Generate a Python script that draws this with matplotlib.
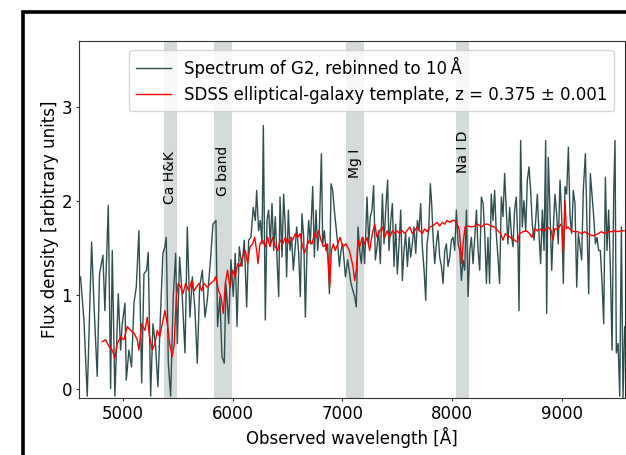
import matplotlib
matplotlib.use("Agg")
import matplotlib.pyplot as plt
from matplotlib.patches import Rectangle

# ---------------- data ----------------
spec_wave = [
    4600, 4614, 4645, 4675, 4715, 4736, 4766, 4787, 4818, 4836, 4867, 4888, 4903, 4927, 4958, 4979,
    4994, 5019, 5031, 5055, 5079, 5101, 5122, 5146, 5171, 5192, 5216, 5231, 5253, 5274, 5298, 5319,
    5344, 5365, 5383, 5395, 5414, 5435, 5459, 5481, 5496, 5517, 5541, 5566, 5587, 5611, 5633, 5657,
    5678, 5699, 5724, 5748, 5769, 5800, 5821,
    5848, 5863, 5884, 5903, 5924, 5939, 5964, 5985, 6006, 6024, 6040, 6061, 6085, 6106, 6128, 6146,
    6167, 6188, 6207, 6219, 6237, 6252, 6268, 6280, 6298, 6313, 6328, 6344, 6359, 6374, 6389, 6404,
    6420, 6432, 6450, 6465, 6480, 6492, 6508, 6523, 6538, 6553, 6568, 6584, 6602, 6617, 6632, 6648,
    6663, 6678, 6693, 6708, 6730, 6745, 6760, 6775, 6790, 6809, 6821, 6836, 6851, 6866, 6882, 6897,
    6912, 6927, 6942, 6958, 6973, 6988, 7003, 7028, 7049, 7079,
    7097, 7112, 7127, 7143, 7158, 7173, 7188, 7203, 7225, 7240, 7255, 7270, 7285, 7301, 7316, 7331,
    7346, 7365, 7380, 7395, 7413, 7425, 7441, 7456, 7471, 7486, 7501, 7517, 7532, 7547, 7562, 7577,
    7593, 7608, 7623, 7638, 7653, 7669, 7684, 7699, 7714, 7729, 7745, 7760, 7772, 7787, 7802, 7814,
    7827, 7842, 7857, 7872, 7887, 7903, 7918, 7933, 7948, 7963, 7979, 7994, 8009, 8024, 8039, 8055,
    8070, 8085, 8100, 8115, 8131, 8146, 8161, 8176, 8191, 8207, 8222, 8237, 8252, 8267, 8283, 8298,
    8313,
    8327, 8342, 8357, 8373, 8388, 8403, 8418, 8433, 8449, 8464, 8479, 8494, 8509, 8525, 8540, 8555,
    8570, 8585, 8601, 8610, 8625, 8640, 8655, 8671, 8686, 8701, 8716, 8731, 8747, 8762, 8777, 8792,
    8807, 8823, 8838, 8853, 8862, 8877, 8892, 8908, 8923, 8938, 8953, 8968, 8984, 8999, 9014, 9029,
    9044, 9060, 9075, 9090, 9105, 9120, 9136, 9151, 9166, 9181, 9196, 9215, 9230, 9245, 9260, 9275,
    9291, 9306, 9321, 9336, 9351, 9367, 9382, 9397, 9412, 9427, 9443, 9458, 9473, 9485, 9497, 9513,
    9528, 9543, 9558, 9573, 9583,
]
spec_flux = [
    1.15, 1.19, 0.73, -0.08, 1.56, 0.91, 0.13, 1.22, 1.42, 0.83, 1.95, 0.00, 1.47, -0.08, 1.01, 0.41,
    0.69, 0.91, 0.09, 0.41, 0.23, 0.91, 1.08, 1.68, 0.06, 1.22, 1.26, 1.45, -0.08, 0.69, 0.45, 0.02,
    0.83, 1.44, 1.51, 1.61, 0.27, -0.08, 0.98, 1.44, 0.48, 1.40, 0.98, 0.38, 1.72, 0.76, 1.19, 0.83,
    0.27, 1.08, 1.26, 0.76, 0.94, 1.40, 1.75,
    1.79, 0.66, 0.98, 0.34, 0.27, 1.12, 0.69, 1.37, 0.98, 1.44, 0.66, 1.51, 1.30, 1.58, 0.87, 1.58,
    1.61, 1.93, 1.79, 2.11, 1.68, 1.79, 1.54, 2.80, 0.73, 1.79, 1.90, 1.54, 1.97, 1.47, 1.83, 1.40,
    0.98, 2.04, 1.40, 2.07, 1.72, 1.19, 1.90, 1.47, 1.61, 1.26, 1.47, 1.72, 1.44, 0.98, 1.86, 1.61,
    0.76, 1.47, 1.79, 1.54, 2.15, 1.40, 1.90, 1.47, 1.68, 2.50, 1.54, 1.68, 1.47, 1.54, 1.01, 2.18,
    2.11, 1.90, 1.72, 1.54, 1.30, 1.47, 1.54, 1.19, 1.37, 1.12,
    1.04, 0.98, 0.87, 1.72, 1.47, 1.33, 1.61, 1.33, 2.04, 1.54, 1.83, 1.90, 2.16, 1.37, 1.51, 1.68,
    1.33, 2.07, 1.54, 1.90, 2.22, 1.47, 1.79, 1.97, 1.30, 1.75, 1.22, 1.54, 1.90, 1.15, 1.47, 1.65,
    1.30, 1.61, 1.40, 1.54, 1.72, 1.44, 1.79, 1.68, 1.97, 1.51, 1.26, 0.94, 1.54, 1.68, 2.18, 1.97,
    1.61, 1.33, 1.54, 1.68, 1.40, 1.30, 1.12, 1.47, 1.54, 1.30, 1.40, 1.58, 1.61, 1.47, 1.90, 1.54,
    1.47, 1.15, 1.37, 1.26, 1.90, 0.98, 1.47, 1.61, 1.33, 1.61, 1.90, 1.47, 1.26, 2.04, 1.97, 1.65,
    1.12,
    1.61, 1.12, 2.07, 1.79, 2.11, 1.65, 1.40, 1.12, 2.04, 1.83, 2.29, 1.90, 1.54, 1.93, 1.65, 1.51,
    1.90, 2.04, 1.51, 0.83, 2.64, 1.72, 2.00, 1.68, 2.22, 2.36, 2.11, 1.75, 1.58, 1.79, 2.07, 1.65,
    1.33, 1.90, 1.47, 2.64, 0.80, 2.46, 1.90, 1.26, 1.72, 2.07, 1.86, 1.54, 2.22, 1.83, 1.12, 2.15,
    2.07, 2.57, 1.83, 1.65, 2.11, 1.97, 1.08, 1.65, 1.51, 1.37, 2.11, 2.50, 1.72, 1.01, 2.29, 2.07,
    1.83, 1.54, 1.61, 1.47, 1.47, 1.12, 0.69, 2.25, 1.47, 1.90, 1.26, 0.41, 2.07, 2.64, 0.38, 0.48,
    -0.08, 1.72, -0.10, 0.66, 0.66,
]

tmpl_wave = [
    4812, 4842, 4873, 4903, 4927, 4949, 4979, 5009, 5040, 5070, 5101, 5131, 5146, 5171, 5201, 5222,
    5243, 5268, 5292, 5313, 5335, 5359, 5383, 5405, 5426, 5450, 5468, 5487, 5505, 5526, 5547, 5572,
    5602, 5627, 5648, 5669, 5693, 5718, 5739, 5769, 5800, 5830,
    5848, 5872, 5894, 5915, 5933, 5954, 5976, 6000, 6024, 6046, 6067, 6091, 6116, 6137, 6158, 6182,
    6201, 6219, 6231, 6249, 6274, 6298, 6319, 6340, 6365, 6389, 6410, 6432, 6456, 6480, 6502, 6523,
    6547, 6572, 6593, 6614, 6632, 6654, 6675, 6699, 6724, 6745, 6766, 6784, 6806, 6827, 6851, 6869,
    6885, 6900, 6918, 6936, 6958, 6979, 7003, 7034, 7064,
    7097, 7112, 7127, 7143, 7158, 7182, 7203, 7225, 7249, 7273, 7295, 7316, 7340, 7365, 7386, 7407,
    7431, 7456, 7477, 7498, 7523, 7547, 7568, 7589, 7614, 7638, 7659, 7681, 7705, 7729, 7751, 7772,
    7796, 7821, 7842, 7863, 7887, 7912, 7933, 7954, 7979, 8003, 8024, 8045, 8064, 8076, 8088, 8100,
    8118, 8146, 8176, 8207, 8237, 8267, 8298,
    8327, 8357, 8388, 8418, 8443, 8464, 8485, 8509, 8540, 8570, 8595, 8616, 8646, 8677, 8707, 8728,
    8753, 8783, 8813, 8844, 8874, 8905, 8920, 8935, 8965, 8990, 9002, 9014, 9029, 9041, 9057, 9087,
    9117, 9148, 9178, 9209, 9239, 9269, 9300, 9330, 9361, 9391, 9421, 9452, 9482, 9513, 9543, 9583,
]
tmpl_flux = [
    0.50, 0.52, 0.45, 0.41, 0.32, 0.48, 0.55, 0.52, 0.66, 0.62, 0.59, 0.52, 0.41, 0.69, 0.62, 0.76,
    0.55, 0.41, 0.48, 0.62, 0.55, 0.69, 0.83, 0.69, 0.48, 0.34, 0.48, 0.98, 1.12, 1.08, 1.01, 1.12,
    1.04, 1.15, 1.04, 1.08, 1.12, 1.04, 1.12, 1.08, 1.12, 1.15,
    1.19, 1.04, 0.98, 0.80, 1.12, 1.26, 1.08, 1.26, 1.19, 1.33, 1.30, 1.40, 1.47, 1.33, 1.51, 1.54,
    1.61, 1.47, 1.33, 1.54, 1.58, 1.51, 1.61, 1.51, 1.61, 1.51, 1.47, 1.58, 1.54, 1.61, 1.54, 1.61,
    1.58, 1.65, 1.61, 1.65, 1.54, 1.44, 1.51, 1.58, 1.54, 1.65, 1.61, 1.68, 1.58, 1.51, 1.54, 1.40,
    1.08, 1.47, 1.54, 1.47, 1.54, 1.61, 1.51, 1.54, 1.47,
    1.30, 1.15, 1.26, 1.58, 1.51, 1.61, 1.54, 1.61, 1.47, 1.65, 1.75, 1.61, 1.68, 1.72, 1.61, 1.68,
    1.61, 1.68, 1.65, 1.68, 1.65, 1.68, 1.65, 1.68, 1.72, 1.65, 1.68, 1.72, 1.68, 1.65, 1.70, 1.67,
    1.72, 1.73, 1.75, 1.77, 1.73, 1.77, 1.75, 1.79, 1.77, 1.79, 1.79, 1.75, 1.70, 1.54, 1.33, 1.54,
    1.72, 1.73, 1.72, 1.73, 1.75, 1.72, 1.75,
    1.75, 1.73, 1.72, 1.68, 1.65, 1.58, 1.65, 1.63, 1.60, 1.58, 1.56, 1.65, 1.67, 1.68, 1.65, 1.61,
    1.70, 1.68, 1.70, 1.68, 1.72, 1.68, 1.58, 1.70, 1.70, 1.75, 1.72, 1.44, 2.00, 1.70, 1.72, 1.68,
    1.67, 1.67, 1.65, 1.67, 1.65, 1.63, 1.63, 1.65, 1.67, 1.65, 1.67, 1.67, 1.68, 1.67, 1.68, 1.68,
]

band_names = ["Ca H&K", "G band", "Mg I", "Na I D"]
band_lo = [5373, 5833, 7036, 8040]
band_hi = [5493, 5993, 7196, 8155]
band_text_y = [2.25, 2.32, 2.40, 2.52]

x_ticks = [5000, 6000, 7000, 8000, 9000]
y_ticks = [0, 1, 2, 3]

# ---------------- figure ----------------
plt.rcParams['font.family'] = ['DejaVu Sans']
W, H = 626, 455
fig = plt.figure(figsize=(W / 100, H / 100), dpi=100)
ax = fig.add_axes([79 / W, 1 - 398 / H, (625 - 79) / W, (398 - 41) / H])

band_color = '#d5dbdb'
for name, lo, hi, ty in zip(band_names, band_lo, band_hi, band_text_y):
    ax.axvspan(lo, hi, color=band_color, lw=0, zorder=0)
    ax.text((lo + hi) / 2, ty, name, rotation=90, ha='center', va='center',
            fontsize=10, color='black', zorder=1)

ax.plot(spec_wave, spec_flux, color='darkslategray', lw=1.0, zorder=2,
        label='Spectrum of G2, rebinned to 10\u2009\u00c5')
ax.plot(tmpl_wave, tmpl_flux, color='red', lw=1.0, zorder=3,
        label='SDSS elliptical-galaxy template, z = 0.375 \u00b1 0.001')

ax.set_xlim(4600, 9576)
ax.set_ylim(-0.1, 3.7)
ax.set_xticks(x_ticks)
ax.set_yticks(y_ticks)
ax.tick_params(labelsize=12, color='#333333', length=2.5, pad=2.5)
for s in ax.spines.values():
    s.set_color('#333333')
ax.set_xlabel('Observed wavelength [\u00c5]', fontsize=12, labelpad=3)
ax.set_ylabel('Flux density [arbitrary units]', fontsize=12, labelpad=2)

ax.legend(loc='upper right', fontsize=12, bbox_to_anchor=(0.995, 0.998),
          handlelength=2.1)

# black frame (cropped page border)
fig.add_artist(Rectangle((22.5 / W, -0.5), 2.0, 1 - 11.5 / H + 0.5,
                         transform=fig.transFigure, fill=False,
                         edgecolor='black', lw=2.6, clip_on=False))

fig.savefig('out.png', dpi=100)
